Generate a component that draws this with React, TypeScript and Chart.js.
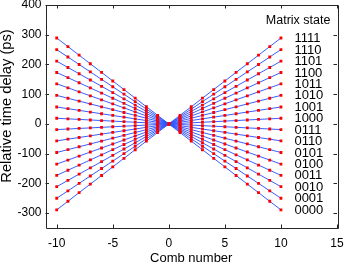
import React, { useEffect, useRef } from "react";
import { Chart, registerables } from "chart.js";

Chart.register(...registerables);

const combNumbers = [-10, -9, -8, -7, -6, -5, -4, -3, -2, -1, 0, 1, 2, 3, 4, 5, 6, 7, 8, 9, 10];
const matrixStates = ["0000", "0001", "0010", "0011", "0100", "0101", "0110", "0111", "1000", "1001", "1010", "1011", "1100", "1101", "1110", "1111"];
// relative delay per comb line (ps) for each matrix state
const delayPerComb = [-28.9, -25.0, -21.1, -17.3, -13.5, -9.6, -5.7, -1.9, 1.9, 5.7, 9.6, 13.5, 17.3, 21.1, 25.0, 28.9];
const xTicks = [-10, -5, 0, 5, 10, 15];
const yTicks = [-300, -200, -100, 0, 100, 200, 300, 400];

const FONT = "'Liberation Sans', Arial, Helvetica, sans-serif";
const INK = "#262626";

const decorPlugin = {
  id: "decor",
  afterDraw(chart: any) {
    const { ctx, chartArea } = chart;
    const { left, right, top, bottom } = chartArea;
    const xs = chart.scales.x;
    const ys = chart.scales.y;
    ctx.save();
    ctx.strokeStyle = INK;
    ctx.lineWidth = 1;
    ctx.beginPath();
    ctx.rect(Math.round(left) + 0.5, Math.round(top) + 0.5, Math.round(right - left), Math.round(bottom - top));
    ctx.stroke();
    const tl = 3.5;
    ctx.beginPath();
    xTicks.forEach((v) => {
      const px = Math.round(xs.getPixelForValue(v)) + 0.5;
      ctx.moveTo(px, bottom);
      ctx.lineTo(px, bottom - tl);
      ctx.moveTo(px, top);
      ctx.lineTo(px, top + tl);
    });
    yTicks.forEach((v) => {
      const py = Math.round(ys.getPixelForValue(v)) + 0.5;
      ctx.moveTo(left, py);
      ctx.lineTo(left + tl, py);
      ctx.moveTo(right, py);
      ctx.lineTo(right - tl, py);
    });
    ctx.stroke();

    // axis titles
    ctx.fillStyle = "#000";
    ctx.textAlign = "center";
    ctx.textBaseline = "middle";
    ctx.font = `13px ${FONT}`;
    ctx.fillText("Comb number", (left + right) / 2, 258);
    ctx.save();
    ctx.translate(7, 106);
    ctx.rotate(-Math.PI / 2);
    ctx.font = `14.7px ${FONT}`;
    ctx.fillText("Relative time delay (ps)", 0, 0);
    ctx.restore();

    // legend-like labels
    ctx.textAlign = "left";
    ctx.font = `12.5px ${FONT}`;
    ctx.fillText("Matrix state", xs.getPixelForValue(8.65), ys.getPixelForValue(348));
    ctx.font = `13px ${FONT}`;
    matrixStates.forEach((s, i) => {
      const lastX = combNumbers[combNumbers.length - 1];
      ctx.fillText(s, xs.getPixelForValue(11.2), ys.getPixelForValue(delayPerComb[i] * lastX) + 0.5);
    });
    ctx.restore();
  },
};

export default function App() {
  const ref = useRef<HTMLCanvasElement>(null);
  useEffect(() => {
    if (!ref.current) return;
    const datasets = matrixStates.map((s, i) => ({
      label: s,
      data: combNumbers.map((n) => ({ x: n, y: n * delayPerComb[i] })),
      borderColor: "rgba(45,85,255,0.95)",
      borderWidth: 1,
      pointStyle: "rect" as const,
      pointRadius: 2,
      pointBorderWidth: 0,
      pointBackgroundColor: "#ff0000",
      pointBorderColor: "#ff0000",
      showLine: true,
      fill: false,
    }));
    const zeroPad = (scale: any) => {
      scale.paddingLeft = 0;
      scale.paddingRight = 0;
      scale.paddingTop = 0;
      scale.paddingBottom = 0;
    };
    const chart = new Chart(ref.current, {
      type: "scatter",
      data: { datasets },
      plugins: [decorPlugin],
      options: {
        animation: false,
        responsive: false,
        devicePixelRatio: 1,
        layout: { padding: { left: 0, top: 5, right: 9, bottom: 0 } },
        plugins: { legend: { display: false }, tooltip: { enabled: false }, title: { display: false } },
        scales: {
          x: {
            type: "linear",
            min: -11,
            max: 15,
            grid: { display: false, drawTicks: false, tickLength: 0 },
            border: { display: false },
            ticks: { font: { family: FONT, size: 12 }, color: "#000", padding: 8, maxRotation: 0 },
            afterBuildTicks: (scale: any) => {
              scale.ticks = xTicks.map((v) => ({ value: v }));
            },
            afterFit: (scale: any) => {
              scale.height = 37;
              zeroPad(scale);
            },
          },
          y: {
            type: "linear",
            min: -350,
            max: 400,
            grid: { display: false, drawTicks: false, tickLength: 0 },
            border: { display: false },
            ticks: { font: { family: FONT, size: 12 }, color: "#000", padding: 4 },
            afterBuildTicks: (scale: any) => {
              scale.ticks = yTicks.map((v) => ({ value: v }));
            },
            afterFit: (scale: any) => {
              scale.width = 45.5;
              zeroPad(scale);
            },
          },
        },
      },
    });
    return () => chart.destroy();
  }, []);
  return (
    <div style={{ position: "fixed", left: 0, top: 0, width: 346, height: 265, background: "#fff" }}>
      <canvas ref={ref} width={346} height={265} style={{ width: 346, height: 265 }} />
    </div>
  );
}
